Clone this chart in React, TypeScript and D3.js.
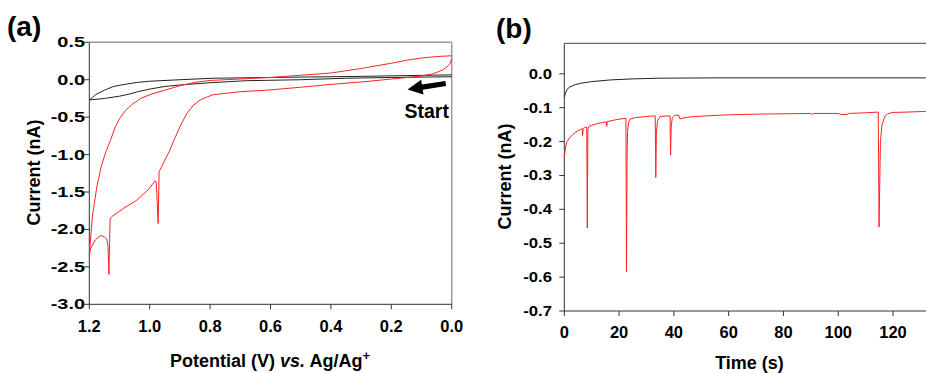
import React from 'react';
import * as d3 from 'd3';

// (a) cyclic voltammograms: potential (V) vs current (nA)
const cvBlackV = [0.0, 0.2, 0.35, 0.5, 0.68, 0.8, 0.9, 0.95, 1.0, 1.04, 1.065, 1.1, 1.15, 1.2,
  1.19, 1.18, 1.15, 1.12, 1.08, 1.04, 1.0, 0.9, 0.79, 0.6, 0.3, 0.0];
const cvBlackI = [0.04, 0.03, 0.02, 0.0, -0.013, -0.04, -0.07, -0.09, -0.125, -0.16, -0.19, -0.22, -0.25, -0.27,
  -0.24, -0.2, -0.14, -0.09, -0.06, -0.035, -0.02, 0.0, 0.02, 0.03, 0.045, 0.065];

const cvRedV = [0.0, 0.05, 0.1, 0.15, 0.2, 0.3, 0.4, 0.5, 0.6, 0.7, 0.8, 0.85, 0.9, 0.95, 1.0, 1.03, 1.055, 1.08, 1.1, 1.115, 1.13, 1.145, 1.16, 1.175, 1.19, 1.2,
  1.195, 1.18, 1.162, 1.15, 1.142, 1.138, 1.135, 1.133, 1.131, 1.126, 1.087, 1.043, 1.005, 0.982, 0.978, 0.972, 0.97, 0.969,
  0.933, 0.92, 0.9, 0.877, 0.855, 0.833, 0.81, 0.79, 0.7, 0.613, 0.5, 0.392, 0.3, 0.171, 0.1, 0.061, 0.03, 0.016, 0.005, 0.0];
const cvRedI = [0.32, 0.31, 0.29, 0.26, 0.22, 0.15, 0.09, 0.06, 0.03, 0.01, -0.01, -0.035, -0.08, -0.14, -0.2, -0.25, -0.32, -0.41, -0.52, -0.64, -0.81, -0.96, -1.15, -1.43, -1.83, -2.34,
  -2.25, -2.14, -2.08, -2.1, -2.13, -2.23, -2.6, -2.2, -1.86, -1.83, -1.72, -1.61, -1.47, -1.35, -1.38, -1.92, -1.5, -1.23,
  -0.94, -0.81, -0.63, -0.45, -0.34, -0.27, -0.23, -0.2, -0.16, -0.14, -0.1, -0.06, -0.03, 0.02, 0.05, 0.08, 0.13, 0.17, 0.22, 0.28];

// (b) chronoamperometry: time (s) vs current (nA)
const caBlackT = [0, 0.3, 1, 2, 4, 6, 10, 17, 25, 35, 55, 132];
const caBlackI = [-0.07, -0.06, -0.046, -0.039, -0.032, -0.028, -0.023, -0.018, -0.015, -0.013, -0.012, -0.012];

const caRedT = [0, 0.5, 1, 2, 3, 4, 5, 6, 6.5, 6.7, 6.9, 7.5, 8, 8.2, 8.4, 8.6, 9, 10, 12, 15.3, 15.5, 15.7, 18, 20,
  22.5, 22.7, 22.9, 23.1, 23.5, 24, 26, 30, 33.2, 33.4, 33.6, 34, 35, 38.6, 38.8, 39.0, 39.4, 40.2, 41.8, 42.2,
  45, 50, 60, 71, 80, 90, 90.5, 91, 100, 101, 103, 104, 110, 114.6, 114.9, 115.1, 115.4, 116, 117, 118, 120, 125, 132];
const caRedI = [-0.245, -0.215, -0.2, -0.189, -0.18, -0.173, -0.168, -0.164, -0.162, -0.182, -0.161, -0.159, -0.157, -0.157, -0.455, -0.165, -0.155, -0.152, -0.147, -0.142, -0.155, -0.141, -0.137, -0.134,
  -0.131, -0.584, -0.25, -0.17, -0.142, -0.134, -0.129, -0.126, -0.124, -0.306, -0.18, -0.14, -0.126, -0.124, -0.24, -0.16, -0.13, -0.123, -0.122, -0.133,
  -0.128, -0.125, -0.121, -0.119, -0.118, -0.117, -0.12, -0.117, -0.117, -0.12, -0.12, -0.117, -0.115, -0.113, -0.452, -0.35, -0.2, -0.15, -0.126, -0.118, -0.114, -0.113, -0.111];

const ticksAX = [1.2, 1.0, 0.8, 0.6, 0.4, 0.2, 0.0];
const ticksAY = [0.5, 0.0, -0.5, -1.0, -1.5, -2.0, -2.5, -3.0];
const ticksBX = [0, 20, 40, 60, 80, 100, 120];
const ticksBY = [0.0, -0.1, -0.2, -0.3, -0.4, -0.5, -0.6, -0.7];

const FONT = 'Liberation Sans, Arial, sans-serif';

const zip = (xs: number[], ys: number[]) => xs.map((x, i) => [x, ys[i]] as [number, number]);

const App = () => {
  const xA = d3.scaleLinear().domain([1.2, 0]).range([89.3, 451.7]);
  const yA = d3.scaleLinear().domain([-3, 0.5]).range([304.3, 42.3]);
  const xB = d3.scaleLinear().domain([0, 132]).range([564.3, 925.9]);
  const yB = d3.scaleLinear().domain([-0.7, 0.09]).range([311, 43.3]);

  const lineA = d3.line<[number, number]>().x(d => xA(d[0])).y(d => yA(d[1]));
  const lineB = d3.line<[number, number]>().x(d => xB(d[0])).y(d => yB(d[1]));

  // arrow pointing left, near "Start"
  const tail = [445.7, 83.5];
  const tip = [407.5, 89.5];
  const ang = Math.atan2(tip[1] - tail[1], tip[0] - tail[0]);
  const headLen = 15, headW = 7.5, shaftW = 2.6;
  const bx = tip[0] - Math.cos(ang) * headLen, by = tip[1] - Math.sin(ang) * headLen;
  const nx = -Math.sin(ang), ny = Math.cos(ang);
  const arrowPts = [
    [tail[0] + nx * shaftW, tail[1] + ny * shaftW],
    [bx + nx * shaftW, by + ny * shaftW],
    [bx + nx * headW, by + ny * headW],
    tip,
    [bx - nx * headW, by - ny * headW],
    [bx - nx * shaftW, by - ny * shaftW],
    [tail[0] - nx * shaftW, tail[1] - ny * shaftW],
  ].map(p => p.join(',')).join(' ');

  const axisCol = '#333';

  return (
    <svg width={926} height={373} style={{ position: 'absolute', left: 0, top: 0, background: '#fff' }}
      fontFamily={FONT} fontWeight="bold">
      <rect width={926} height={373} fill="#fff" />

      {/* ---------- panel (a) ---------- */}
      <text x={7} y={36} fontSize={28}>(a)</text>
      <line x1={xA(1.2)} x2={xA(0)} y1={yA(0.5)} y2={yA(0.5)} stroke="#999" strokeWidth={1.5} />
      <line x1={xA(0)} x2={xA(0)} y1={yA(0.5)} y2={yA(-3)} stroke="#999" strokeWidth={1.5} />
      <line x1={xA(1.2)} x2={xA(1.2)} y1={yA(0.5)} y2={yA(-3)} stroke={axisCol} />
      <line x1={xA(1.2)} x2={xA(0)} y1={yA(-3)} y2={yA(-3)} stroke={axisCol} />
      {ticksAY.map(t => (
        <g key={t}>
          <line x1={xA(1.2) - 5} x2={xA(1.2)} y1={yA(t)} y2={yA(t)} stroke={axisCol} />
          <text transform={`translate(85,${yA(t) + 5}) scale(1.42,1)`} textAnchor="end" fontSize={14}>
            {t.toFixed(1)}
          </text>
        </g>
      ))}
      {ticksAX.map(t => (
        <g key={t}>
          <line x1={xA(t)} x2={xA(t)} y1={yA(-3)} y2={yA(-3) + 5} stroke={axisCol} />
          <text x={xA(t)} y={331.5} textAnchor="middle" fontSize={16.5}>{t.toFixed(1)}</text>
        </g>
      ))}
      <text transform="translate(39.5,172.5) rotate(-90)" textAnchor="middle" fontSize={18}>Current (nA)</text>
      <text x={270} y={367} textAnchor="middle" fontSize={18}>
        Potential (V) <tspan fontStyle="italic">vs.</tspan> Ag/Ag<tspan fontSize={13} dy={-7}>+</tspan>
      </text>

      <path d={lineA(zip(cvBlackV, cvBlackI)) ?? ''} fill="none" stroke="#222" strokeWidth={1} />
      <path d={lineA(zip(cvRedV, cvRedI)) ?? ''} fill="none" stroke="#f22" strokeWidth={1} />

      <polygon points={arrowPts} fill="#000" />
      <text x={404.5} y={117.5} fontSize={19.5}>Start</text>

      {/* ---------- panel (b) ---------- */}
      <text x={496} y={37.5} fontSize={28}>(b)</text>
      <line x1={xB(0)} x2={940} y1={yB(0.09)} y2={yB(0.09)} stroke="#444" strokeWidth={1} />
      <line x1={xB(0)} x2={xB(0)} y1={yB(0.09)} y2={yB(-0.7)} stroke={axisCol} />
      <line x1={xB(0)} x2={940} y1={yB(-0.7)} y2={yB(-0.7)} stroke={axisCol} />
      {ticksBY.map(t => (
        <g key={t}>
          <line x1={xB(0) - 5} x2={xB(0)} y1={yB(t)} y2={yB(t)} stroke={axisCol} />
          <text transform={`translate(552,${yB(t) + 5}) scale(1.15,1)`} textAnchor="end" fontSize={14.5}>
            {t.toFixed(1)}
          </text>
        </g>
      ))}
      {ticksBX.map(t => (
        <g key={t}>
          <line x1={xB(t)} x2={xB(t)} y1={yB(-0.7)} y2={yB(-0.7) + 5} stroke={axisCol} />
          <text x={xB(t)} y={338} textAnchor="middle" fontSize={16.5}>{t}</text>
        </g>
      ))}
      <text transform="translate(511,176.5) rotate(-90)" textAnchor="middle" fontSize={18}>Current (nA)</text>
      <text x={749.5} y={369} textAnchor="middle" fontSize={18}>Time (s)</text>

      <path d={lineB(zip(caBlackT, caBlackI)) ?? ''} fill="none" stroke="#222" strokeWidth={1} />
      <path d={lineB(zip(caRedT, caRedI)) ?? ''} fill="none" stroke="#f22" strokeWidth={1} />
    </svg>
  );
};

export default App;
